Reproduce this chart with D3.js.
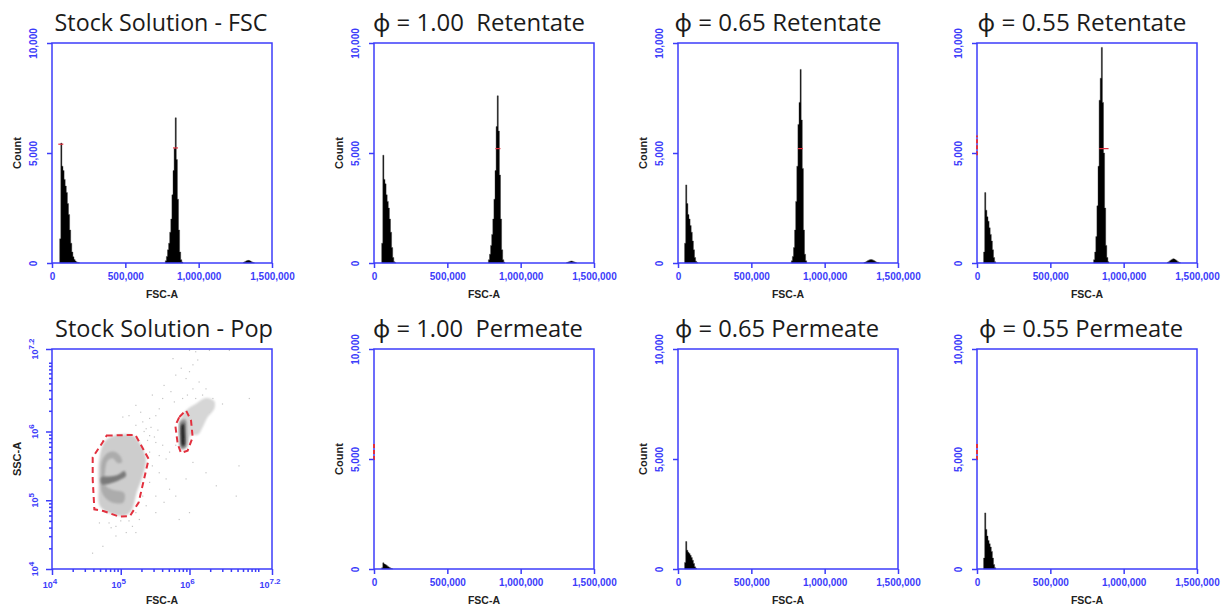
<!DOCTYPE html>
<html>
<head>
<meta charset="utf-8">
<script src="https://cdn.jsdelivr.net/npm/d3@7"></script>
<style>
  body { margin: 0; background: #fff; }
  .title { font-family: "Open Sans", "Noto Sans", sans-serif; fill: #1b1b1b; white-space: pre; }
</style>
</head>
<body>
<div id="chart"></div>
<script>
// axis ticks
const fscTicks = [0, 500000, 1000000, 1500000]
const countTicks = [0, 5000, 10000]
const logLabels = [4, 5, 6, 7.2]   // exponents shown on the Pop plot axes
const binWidth = 7500

const titles = [
  "Stock Solution - FSC", "ϕ = 1.00  Retentate", "ϕ = 0.65 Retentate", "ϕ = 0.55 Retentate",
  "Stock Solution - Pop", "ϕ = 1.00  Permeate", "ϕ = 0.65 Permeate", "ϕ = 0.55 Permeate"
]

// histogram segments: [first bin start (FSC-A), counts per bin]
const stockFsc = [
  [52500, [1100, 5450, 4400, 4200, 3800, 3500, 3200, 2700, 2200, 1500, 900, 500, 280, 160, 90, 50, 25, 10]],
  [772500, [100, 300, 600, 900, 1400, 2000, 3100, 4200, 5200, 6600, 4700, 2900, 1500, 500, 150, 40]],
  [1305000, [30, 60, 90, 110, 120, 110, 90, 60, 30, 10]]
]
const ret100 = [
  [52500, [900, 4900, 3800, 3600, 3100, 2800, 2500, 2000, 1400, 700, 250, 60, 15]],
  [780000, [150, 400, 800, 1300, 2000, 2900, 4200, 6200, 7600, 6000, 4000, 2000, 600, 150, 40]],
  [1312500, [20, 40, 60, 80, 90, 80, 60, 40, 20]]
]
const ret065 = [
  [45000, [900, 3550, 2700, 2200, 2000, 1700, 1400, 1000, 600, 250, 80, 20]],
  [772500, [100, 300, 700, 1500, 2800, 4400, 6300, 7300, 8800, 6500, 4300, 1500, 400, 100]],
  [1267500, [20, 40, 70, 100, 130, 150, 160, 150, 130, 100, 70, 40, 20, 10]]
]
const ret055 = [
  [45000, [500, 3200, 2400, 2100, 1900, 1600, 1300, 1000, 600, 250, 60]],
  [795000, [150, 500, 1200, 2600, 4400, 7400, 8400, 9800, 7300, 5000, 2500, 800, 250, 60]],
  [1297500, [30, 60, 100, 140, 170, 190, 180, 150, 110, 70, 40, 15]]
]
const perm100 = [
  [52500, [60, 280, 230, 200, 170, 130, 90, 60, 30, 10]]
]
const perm065 = [
  [45000, [300, 1250, 850, 760, 700, 620, 520, 400, 250, 100, 30]]
]
const perm055 = [
  [45000, [500, 2550, 1800, 1500, 1300, 1150, 1000, 800, 500, 200, 60]]
]

// red marker ticks [FSC-A, Count]
const stockMarks = [[60000, 5400], [842000, 5230]]
const ret100Marks = [[845000, 5200]]
const ret065Marks = [[835000, 5200]]
const ret055Marks = [[850000, 5200], [880000, 5200]]
// red marks sitting on the count axis [count from, count to]
const ret055Edge = [4900, 5800]
const perm100Edge = [4950, 5750]
const perm055Edge = [4950, 5750]

// Pop plot, in log10 units [FSC-A, SSC-A]
const popLight = [[4.761, 5.844], [4.882, 5.932], [5.173, 5.941], [5.294, 5.795], [5.367, 5.600], [5.319, 5.356],
  [5.231, 5.112], [5.164, 4.868], [5.076, 4.780], [4.882, 4.795], [4.698, 4.917], [4.679, 5.210], [4.688, 5.600]]
const popMid = [[4.727, 5.576], [4.810, 5.688], [4.907, 5.707], [4.989, 5.649], [5.018, 5.551], [4.955, 5.541],
  [4.882, 5.610], [4.810, 5.576], [4.776, 5.454], [4.785, 5.210], [4.882, 5.151], [5.052, 5.102], [5.037, 4.966],
  [4.931, 4.956], [4.810, 5.005], [4.727, 5.112], [4.713, 5.356]]
const popDark = [[4.713, 5.332], [4.834, 5.346], [4.955, 5.366], [5.052, 5.424], [5.076, 5.356], [4.989, 5.298],
  [4.858, 5.249], [4.727, 5.234]]
const popCloud = [[5.862, 6.161], [5.949, 6.307], [6.094, 6.405], [6.240, 6.488], [6.361, 6.439], [6.361, 6.332],
  [6.264, 6.210], [6.191, 6.063], [6.119, 5.951], [6.022, 5.951], [5.959, 5.771], [5.876, 5.746], [5.842, 5.941]]
const popHalo = [[5.862, 6.146], [5.939, 6.176], [5.963, 5.990], [5.949, 5.771], [5.881, 5.746], [5.852, 5.941]]
const popStreak = [[5.886, 6.098], [5.915, 6.117], [5.930, 5.966], [5.925, 5.795], [5.896, 5.785], [5.876, 5.941]]
const popGateA = [[4.795, 5.941], [5.212, 5.951], [5.406, 5.600], [5.260, 4.966], [5.134, 4.771], [4.979, 4.761],
  [4.747, 4.844], [4.616, 4.868], [4.592, 5.307], [4.592, 5.624], [4.737, 5.844]]
const popGateB = [[5.852, 6.210], [5.949, 6.307], [6.022, 6.161], [6.046, 5.917], [5.973, 5.722], [5.876, 5.688],
  [5.828, 5.820], [5.794, 6.088]]
const popEvents = [
  [6.09, 7.16], [6.12, 7.04], [6.05, 6.97], [6.00, 6.87], [5.95, 6.77], [6.14, 6.72], [6.24, 6.62], [6.05, 6.62],
  [5.88, 6.92], [5.80, 6.82], [6.19, 6.53], [6.34, 6.48], [6.48, 6.40], [6.29, 6.28], [6.09, 6.48], [5.97, 6.53],
  [5.90, 6.48], [5.78, 6.43], [5.73, 6.58], [5.61, 6.48], [5.56, 6.33], [5.51, 6.23], [5.42, 6.19], [5.32, 6.14],
  [5.37, 6.04], [5.22, 6.09], [5.12, 6.23], [5.03, 6.21], [5.42, 5.94], [5.51, 5.84], [5.61, 5.80], [5.56, 5.65],
  [5.66, 5.60], [5.71, 5.70], [5.80, 5.80], [5.46, 5.50], [5.56, 5.40], [5.66, 5.31], [5.42, 5.26], [5.71, 5.16],
  [5.80, 5.06], [5.51, 5.06], [5.63, 4.97], [5.37, 4.92], [5.27, 4.72], [5.17, 4.62], [5.08, 4.53], [4.93, 4.62],
  [4.83, 4.67], [4.69, 4.67], [4.59, 4.23], [4.74, 4.33], [4.93, 4.48], [5.22, 4.53], [5.51, 4.82], [5.85, 4.72],
  [6.00, 4.82], [6.24, 5.40], [6.39, 5.21], [6.68, 5.06], [6.72, 5.50], [6.87, 6.48], [6.05, 5.55], [5.95, 5.31],
  [5.29, 6.28], [5.22, 6.38], [5.46, 6.53], [5.63, 6.67], [5.76, 7.06], [6.00, 7.18], [6.29, 7.18], [6.58, 7.18],
  [5.22, 4.82], [5.32, 5.06], [5.42, 5.70], [5.34, 6.00], [5.44, 6.06], [5.49, 5.92], [5.54, 6.02], [5.39, 5.87],
  [5.00, 4.70], [5.12, 4.70], [4.86, 4.60], [6.11, 6.22]
]

// layout
const lefts = [52, 374, 678, 977]
const tops = [43, 349]
const size = 220
const titleX = [161, 479, 778, 1082, 164, 478, 777, 1081]
const titleW = [213, 212, 207, 209, 218, 210, 204, 204]
const titleY = [31, 337]

const blue = "#3c3cfa"
const red = "#e2303e"
const axisFont = "'Liberation Sans', Arial, sans-serif"

const svg = d3.select("#chart").append("svg")
  .attr("width", 1224)
  .attr("height", 606)

// titles, fitted to the width they take in the figure
titles.forEach((t, i) => {
  const txt = svg.append("text")
    .attr("class", "title")
    .attr("x", titleX[i])
    .attr("y", titleY[Math.floor(i / 4)])
    .attr("text-anchor", "middle")
    .attr("font-size", 26)
    .text(t)
  const len = txt.node().getComputedTextLength()
  txt.attr("font-size", 26 * titleW[i] / len)
})

const styleAxis = a => {
  a.attr("font-family", axisFont).attr("font-size", 10).attr("font-weight", "bold")
  a.select(".domain").remove()
  a.selectAll("line").attr("stroke", blue).attr("stroke-width", 1.5)
  a.selectAll("text").attr("fill", blue)
}

const axisTitle = (g, x, y, text, rotate) => {
  g.append("text")
    .attr("transform", `translate(${x},${y})` + (rotate ? " rotate(-90)" : ""))
    .attr("text-anchor", "middle")
    .attr("dy", "0.35em")
    .attr("font-family", axisFont)
    .attr("font-size", rotate ? 11 : 10.5)
    .attr("font-weight", "bold")
    .attr("fill", "#222")
    .text(text)
}

const hists = [
  { i: 0, segs: stockFsc, marks: stockMarks, edge: null, count: true },
  { i: 1, segs: ret100, marks: ret100Marks, edge: null, count: true },
  { i: 2, segs: ret065, marks: ret065Marks, edge: null, count: true },
  { i: 3, segs: ret055, marks: ret055Marks, edge: ret055Edge, count: false },
  { i: 5, segs: perm100, marks: [], edge: perm100Edge, count: true },
  { i: 6, segs: perm065, marks: [], edge: null, count: true },
  { i: 7, segs: perm055, marks: [], edge: perm055Edge, count: false }
]

hists.forEach(p => {
  const left = lefts[p.i % 4]
  const top = tops[Math.floor(p.i / 4)]
  const x = d3.scaleLinear().domain([0, 1500000]).range([left, left + size])
  const y = d3.scaleLinear().domain([0, 10000]).range([top + size, top])
  const g = svg.append("g")

  const area = d3.area()
    .curve(d3.curveStepAfter)
    .x(d => x(d[0]))
    .y0(y(0))
    .y1(d => y(d[1]))

  p.segs.forEach(([start, counts]) => {
    const pts = counts.map((c, k) => [start + k * binWidth, c])
    pts.push([start + counts.length * binWidth, 0])
    g.append("path")
      .attr("d", area(pts))
      .attr("fill", "#000")
      .attr("stroke", "#333")
      .attr("stroke-width", 0.4)
  })

  g.selectAll(".mark")
    .data(p.marks)
    .enter()
    .append("line")
      .attr("x1", d => x(d[0]) - 2.5)
      .attr("x2", d => x(d[0]) + 2.5)
      .attr("y1", d => y(d[1]))
      .attr("y2", d => y(d[1]))
      .attr("stroke", red)
      .attr("stroke-width", 1.2)

  g.append("rect")
    .attr("x", left).attr("y", top)
    .attr("width", size).attr("height", size)
    .attr("fill", "none")
    .attr("stroke", blue)
    .attr("stroke-width", 1.5)

  if (p.edge) {
    g.append("line")
      .attr("x1", left).attr("x2", left)
      .attr("y1", y(p.edge[0])).attr("y2", y(p.edge[1]))
      .attr("stroke", red)
      .attr("stroke-width", 2)
      .attr("stroke-dasharray", "4,2")
  }

  g.append("g")
    .attr("transform", `translate(0,${top + size})`)
    .call(d3.axisBottom(x).tickValues(fscTicks).tickFormat(d3.format(",")).tickSize(5).tickPadding(5))
    .call(styleAxis)

  g.append("g")
    .attr("transform", `translate(${left},0)`)
    .call(d3.axisLeft(y).tickValues(countTicks).tickFormat(d3.format(",")).tickSize(5))
    .call(styleAxis)
    .call(a => a.selectAll("text")
      .attr("transform", "rotate(-90)")
      .attr("x", 0)
      .attr("y", -19)
      .attr("dy", "0.35em")
      .attr("text-anchor", "middle"))

  axisTitle(g, left + size / 2, top + size + 31, "FSC-A", false)
  if (p.count) axisTitle(g, left - 35, top + size / 2, "Count", true)
})

// Stock Solution - Pop (log-log density plot)
{
  const left = lefts[0]
  const top = tops[1]
  const x = d3.scaleLog().domain([1e4, 10 ** 7.2]).range([left, left + size])
  const y = d3.scaleLog().domain([1e4, 10 ** 7.2]).range([top + size, top])
  const g = svg.append("g")

  g.append("clipPath").attr("id", "popClip")
    .append("rect").attr("x", left).attr("y", top).attr("width", size).attr("height", size)
  const defs = g.append("defs")
  defs.append("filter").attr("id", "soft")
    .append("feGaussianBlur").attr("stdDeviation", 1.3)

  const plot = g.append("g").attr("clip-path", "url(#popClip)")
  const blob = d3.line()
    .x(d => x(10 ** d[0]))
    .y(d => y(10 ** d[1]))
    .curve(d3.curveCatmullRomClosed)
  const poly = d3.line()
    .x(d => x(10 ** d[0]))
    .y(d => y(10 ** d[1]))
    .curve(d3.curveLinearClosed)

  plot.selectAll(".ev")
    .data(popEvents)
    .enter()
    .append("rect")
      .attr("x", d => x(10 ** d[0]) - 0.6)
      .attr("y", d => y(10 ** d[1]) - 0.6)
      .attr("width", 1.2)
      .attr("height", 1.2)
      .attr("fill", "#c4c4c4")

  const shapes = [
    [popCloud, "#d6d6d6"], [popLight, "#cdcdcd"], [popMid, "#acacac"], [popDark, "#7a7a7a"],
    [popHalo, "#909090"], [popStreak, "#222"]
  ]
  shapes.forEach(([pts, fill]) => {
    plot.append("path").attr("d", blob(pts)).attr("fill", fill).attr("filter", "url(#soft)")
  })

  ;[popGateA, popGateB].forEach(pts => {
    plot.append("path")
      .attr("d", poly(pts))
      .attr("fill", "none")
      .attr("stroke", red)
      .attr("stroke-width", 2)
      .attr("stroke-dasharray", "6,4")
  })

  g.append("rect")
    .attr("x", left).attr("y", top)
    .attr("width", size).attr("height", size)
    .attr("fill", "none")
    .attr("stroke", blue)
    .attr("stroke-width", 1.5)

  const logTicks = []
  ;[4, 5, 6].forEach(e => d3.range(1, 10).forEach(m => logTicks.push(m * 10 ** e)))
  logTicks.push(1e7, 10 ** 7.2)
  const isMajor = d => logLabels.some(e => Math.abs(Math.log10(d) - e) < 1e-6)

  g.append("g")
    .attr("transform", `translate(0,${top + size})`)
    .call(d3.axisBottom(x).tickValues(logTicks).tickFormat("").tickSize(3))
    .call(styleAxis)
    .call(a => a.selectAll(".tick line").filter(isMajor).attr("y2", 6))

  g.append("g")
    .attr("transform", `translate(${left},0)`)
    .call(d3.axisLeft(y).tickValues(logTicks).tickFormat("").tickSize(3))
    .call(styleAxis)
    .call(a => a.selectAll(".tick line").filter(isMajor).attr("x2", -6))

  const powLabel = (sel, e) => {
    sel.attr("font-family", axisFont).attr("font-weight", "bold").attr("fill", blue)
      .attr("text-anchor", "middle").attr("font-size", 9)
    sel.append("tspan").text("10")
    sel.append("tspan").attr("dy", -4).attr("font-size", 8).text(e)
  }
  logLabels.forEach(e => {
    g.append("text")
      .attr("x", x(10 ** e) - 2)
      .attr("y", top + size + 19)
      .call(powLabel, e)
    g.append("text")
      .attr("transform", `translate(${left - 17},${y(10 ** e)}) rotate(-90)`)
      .attr("dy", "0.35em")
      .call(powLabel, e)
  })

  axisTitle(g, left + size / 2, top + size + 31, "FSC-A", false)
  axisTitle(g, left - 35, top + size / 2, "SSC-A", true)
}
</script>
</body>
</html>
